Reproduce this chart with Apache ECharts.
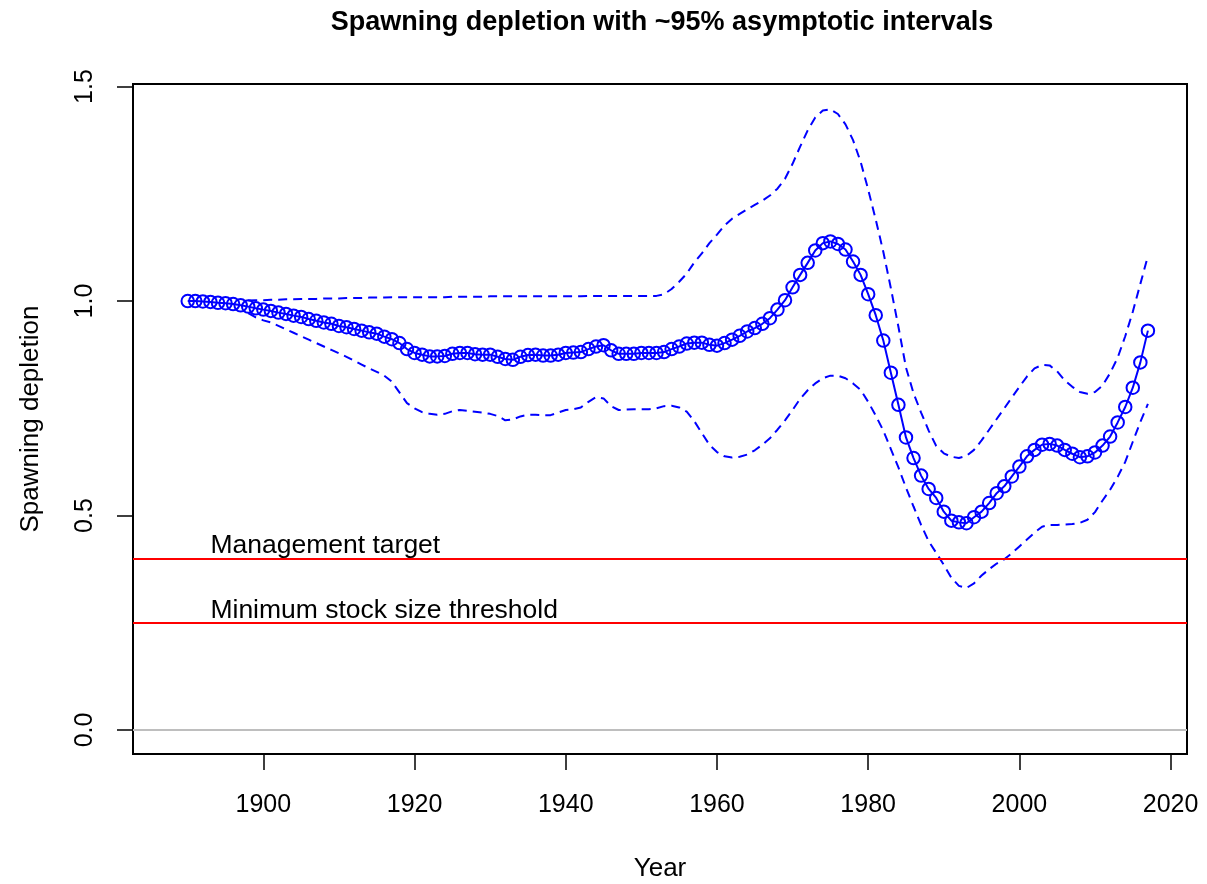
<!DOCTYPE html>
<html>
<head>
<meta charset="utf-8">
<title>Spawning depletion</title>
<script src="https://cdn.jsdelivr.net/npm/echarts@6/dist/echarts.min.js"></script>
<style>
  html, body { margin: 0; padding: 0; background: #fff; }
  #chart { width: 1207px; height: 884px; }
</style>
</head>
<body>
<div id="chart"></div>
<script>
// Model years for the spawning depletion estimate
const years = [
  1890, 1891, 1892, 1893, 1894, 1895, 1896, 1897, 1898, 1899,
  1900, 1901, 1902, 1903, 1904, 1905, 1906, 1907, 1908, 1909,
  1910, 1911, 1912, 1913, 1914, 1915, 1916, 1917, 1918, 1919,
  1920, 1921, 1922, 1923, 1924, 1925, 1926, 1927, 1928, 1929,
  1930, 1931, 1932, 1933, 1934, 1935, 1936, 1937, 1938, 1939,
  1940, 1941, 1942, 1943, 1944, 1945, 1946, 1947, 1948, 1949,
  1950, 1951, 1952, 1953, 1954, 1955, 1956, 1957, 1958, 1959,
  1960, 1961, 1962, 1963, 1964, 1965, 1966, 1967, 1968, 1969,
  1970, 1971, 1972, 1973, 1974, 1975, 1976, 1977, 1978, 1979,
  1980, 1981, 1982, 1983, 1984, 1985, 1986, 1987, 1988, 1989,
  1990, 1991, 1992, 1993, 1994, 1995, 1996, 1997, 1998, 1999,
  2000, 2001, 2002, 2003, 2004, 2005, 2006, 2007, 2008, 2009,
  2010, 2011, 2012, 2013, 2014, 2015, 2016, 2017
];

// Point estimate of spawning depletion, one value per year above
const depletion = [
  1.000, 1.000, 0.999, 0.998, 0.996, 0.995, 0.993, 0.990, 0.987, 0.983,
  0.980, 0.977, 0.973, 0.970, 0.966, 0.963, 0.958, 0.954, 0.950, 0.947,
  0.942, 0.939, 0.935, 0.931, 0.927, 0.924, 0.917, 0.911, 0.902, 0.888,
  0.879, 0.875, 0.871, 0.871, 0.872, 0.877, 0.879, 0.879, 0.876, 0.875,
  0.875, 0.870, 0.865, 0.863, 0.870, 0.874, 0.875, 0.873, 0.873, 0.875,
  0.879, 0.880, 0.881, 0.888, 0.894, 0.897, 0.885, 0.877, 0.877, 0.877,
  0.879, 0.879, 0.879, 0.881, 0.888, 0.894, 0.901, 0.903, 0.903, 0.898,
  0.896, 0.902, 0.910, 0.919, 0.929, 0.937, 0.947, 0.960, 0.980, 1.002,
  1.032, 1.061, 1.089, 1.118, 1.135, 1.139, 1.133, 1.120, 1.092, 1.061,
  1.016, 0.967, 0.908, 0.833, 0.758, 0.682, 0.634, 0.593, 0.562, 0.541,
  0.509, 0.488, 0.484, 0.482, 0.496, 0.509, 0.529, 0.552, 0.568, 0.591,
  0.614, 0.638, 0.653, 0.665, 0.667, 0.663, 0.653, 0.644, 0.636, 0.638,
  0.647, 0.663, 0.684, 0.717, 0.753, 0.798, 0.857, 0.931
];

// Asymptotic ~95% interval bounds, available from this year onward
const intervalStart = 1898;
const upper95 = [
  1.001, 1.002,
  1.002, 1.003, 1.003, 1.004, 1.004, 1.005, 1.005, 1.005, 1.006, 1.006,
  1.006, 1.007, 1.007, 1.007, 1.008, 1.008, 1.008, 1.009, 1.009, 1.009,
  1.009, 1.009, 1.009, 1.009, 1.009, 1.010, 1.010, 1.010, 1.010, 1.010,
  1.011, 1.011, 1.011, 1.011, 1.011, 1.011, 1.011, 1.011, 1.011, 1.011,
  1.011, 1.011, 1.011, 1.012, 1.012, 1.012, 1.012, 1.012, 1.012, 1.012,
  1.012, 1.012, 1.012, 1.016, 1.028, 1.045, 1.064, 1.090, 1.111, 1.135,
  1.155, 1.176, 1.192, 1.203, 1.214, 1.224, 1.234, 1.246, 1.262, 1.285,
  1.320, 1.360, 1.398, 1.428, 1.444, 1.447, 1.436, 1.412, 1.375, 1.325,
  1.260, 1.190, 1.115, 1.030, 0.940, 0.845, 0.785, 0.740, 0.698, 0.662,
  0.645, 0.637, 0.634, 0.639, 0.653, 0.675, 0.700, 0.725, 0.750, 0.775,
  0.800, 0.824, 0.843, 0.851, 0.850, 0.836, 0.815, 0.800, 0.788, 0.784,
  0.788, 0.803, 0.832, 0.868, 0.918, 0.975, 1.040, 1.105
];
const lower95 = [
  0.972, 0.962,
  0.955, 0.950, 0.942, 0.934, 0.926, 0.918, 0.910, 0.902, 0.894, 0.886,
  0.878, 0.870, 0.861, 0.852, 0.843, 0.835, 0.826, 0.812, 0.787, 0.762,
  0.750, 0.741, 0.737, 0.735, 0.737, 0.743, 0.746, 0.744, 0.742, 0.740,
  0.737, 0.732, 0.722, 0.724, 0.731, 0.735, 0.735, 0.734, 0.734, 0.740,
  0.746, 0.748, 0.752, 0.765, 0.776, 0.773, 0.755, 0.746, 0.747, 0.748,
  0.748, 0.748, 0.750, 0.755, 0.756, 0.752, 0.742, 0.720, 0.692, 0.665,
  0.648, 0.638, 0.635, 0.637, 0.642, 0.652, 0.665, 0.680, 0.700, 0.722,
  0.746, 0.772, 0.792, 0.808, 0.820, 0.826, 0.826, 0.820, 0.808, 0.793,
  0.765, 0.733, 0.698, 0.655, 0.612, 0.565, 0.521, 0.478, 0.440, 0.413,
  0.385, 0.355, 0.336, 0.331, 0.342, 0.360, 0.375, 0.388, 0.398, 0.412,
  0.428, 0.444, 0.460, 0.474, 0.478, 0.478, 0.479, 0.480, 0.483, 0.490,
  0.508, 0.535, 0.560, 0.590, 0.625, 0.672, 0.718, 0.760
];

// Reference points
const managementTarget = 0.4;
const minStockThreshold = 0.25;
const refLabels = ['Management target', 'Minimum stock size threshold'];
const refLabelYear = 1893;

// Axis ticks
const xTicks = [1900, 1920, 1940, 1960, 1980, 2000, 2020];
const yTicks = [0, 0.5, 1, 1.5];

const BLUE = '#0000FF';
const FONT = '"Liberation Sans", Arial, Helvetica, sans-serif';

const mainPoints = years.map((y, i) => [y, depletion[i]]);
const firstIdx = years.indexOf(intervalStart);
const upperPoints = upper95.map((v, i) => [years[firstIdx + i], v]);
const lowerPoints = lower95.map((v, i) => [years[firstIdx + i], v]);

const chart = echarts.init(document.getElementById('chart'), null, { renderer: 'canvas' });

const dashed = { color: BLUE, width: 2, type: [9, 6] };

chart.setOption({
  backgroundColor: '#ffffff',
  animation: false,
  title: {
    text: 'Spawning depletion with ~95% asymptotic intervals',
    left: 657,
    top: 4,
    textAlign: 'center',
    textStyle: { fontFamily: FONT, fontWeight: 'bold', fontSize: 27, color: '#000' }
  },
  grid: {
    left: 133, right: 20, top: 84, bottom: 130,
    containLabel: false,
    outerBoundsMode: 'none',
    show: true, borderColor: '#000', borderWidth: 2, backgroundColor: 'transparent'
  },
  xAxis: {
    type: 'value',
    min: 1882.76,
    max: 2022.17,
    name: 'Year',
    nameLocation: 'middle',
    nameGap: 102,
    nameTextStyle: { fontFamily: FONT, fontSize: 26, color: '#000' },
    axisLine: { show: false, onZero: false },
    splitLine: { show: false },
    axisTick: {
      show: true, inside: false, length: 16, customValues: xTicks,
      lineStyle: { color: '#000', width: 1.5 }
    },
    axisLabel: {
      customValues: xTicks, margin: 39,
      fontFamily: FONT, fontSize: 25, color: '#000',
      formatter: v => String(v)
    }
  },
  yAxis: {
    type: 'value',
    min: -0.056,
    max: 1.506,
    name: 'Spawning depletion',
    nameLocation: 'middle',
    nameGap: 89,
    nameRotate: 90,
    nameTextStyle: { fontFamily: FONT, fontSize: 26, color: '#000' },
    axisLine: { show: false, onZero: false },
    splitLine: { show: false },
    axisTick: {
      show: true, inside: false, length: 16, customValues: yTicks,
      lineStyle: { color: '#000', width: 1.5 }
    },
    axisLabel: {
      customValues: yTicks, margin: 35, rotate: 90,
      fontFamily: FONT, fontSize: 25, color: '#000',
      formatter: v => v.toFixed(1)
    }
  },
  series: [
    {
      name: 'reference lines',
      type: 'line',
      data: [],
      silent: true,
      markLine: {
        silent: true,
        symbol: 'none',
        label: { show: false },
        animation: false,
        data: [
          { yAxis: 0, lineStyle: { color: '#BEBEBE', width: 2, type: 'solid' } },
          { yAxis: managementTarget, lineStyle: { color: '#FF0000', width: 2, type: 'solid' } },
          { yAxis: minStockThreshold, lineStyle: { color: '#FF0000', width: 2, type: 'solid' } }
        ]
      }
    },
    {
      name: 'reference labels',
      type: 'scatter',
      symbolSize: 0,
      silent: true,
      itemStyle: { opacity: 1 },
      data: [[refLabelYear, managementTarget], [refLabelYear, minStockThreshold]],
      label: {
        show: true,
        position: [0, 1],
        align: 'left',
        verticalAlign: 'bottom',
        fontFamily: FONT, fontSize: 26.5, color: '#000',
        formatter: p => refLabels[p.dataIndex]
      }
    },
    {
      name: 'upper 95%',
      type: 'line',
      data: upperPoints,
      showSymbol: false,
      lineStyle: dashed,
      silent: true
    },
    {
      name: 'lower 95%',
      type: 'line',
      data: lowerPoints,
      showSymbol: false,
      lineStyle: dashed,
      silent: true
    },
    {
      name: 'Spawning depletion',
      type: 'line',
      data: mainPoints,
      symbol: 'circle',
      symbolSize: 12.5,
      showAllSymbol: true,
      lineStyle: { color: BLUE, width: 2 },
      itemStyle: { color: 'transparent', borderColor: BLUE, borderWidth: 2 },
      silent: true
    }
  ]
});
</script>
</body>
</html>
